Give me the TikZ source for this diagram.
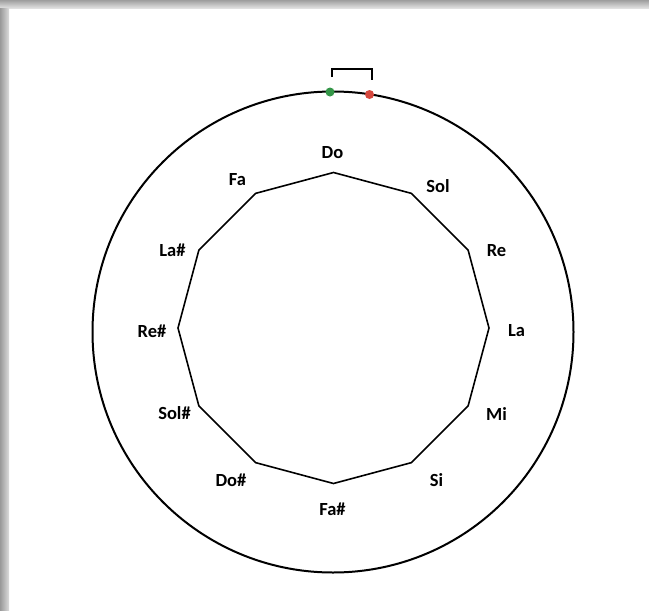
\documentclass[tikz,border=0pt]{standalone}
\usepackage{fontspec}
\setmainfont{Carlito}
\definecolor{dotgreen}{RGB}{52,150,72}
\definecolor{dotred}{RGB}{214,72,62}
\begin{document}
\begin{tikzpicture}[x=1pt,y=-1pt,
  lab/.style={font=\bfseries\fontsize{18.5}{21}\selectfont, inner sep=0pt, anchor=center},
  edge/.style={line width=1.6pt, line join=miter},
  ring/.style={line width=2pt},
  dot/.style={circle, inner sep=0pt, minimum size=9pt}]
\useasboundingbox (0,0) rectangle (649,611);
\fill[white] (0,0) rectangle (649,611);
% frame shadow
\shade[top color=black!38, bottom color=black!12] (0,0) rectangle (649,8);
\shade[left color=black!40, right color=black!14] (0,8) rectangle (9,611);
% outer circle
\coordinate (c) at (333,332);
\draw[ring] (c) circle[radius=240.5];
% dodecagon
\foreach \i in {0,...,11}{
  \coordinate (v\i) at ({333.5+155.5*sin(30*\i)},{328-155.5*cos(30*\i)});
}
\draw[edge] (v0) -- (v1) -- (v2) -- (v3) -- (v4) -- (v5) -- (v6) -- (v7) -- (v8) -- (v9) -- (v10) -- (v11) -- cycle;
% labels
\node[lab] (Do)   at (332.5,153) {Do};
\node[lab] (Sol)  at (438,186) {Sol};
\node[lab] (Re)   at (496.5,250.5) {Re};
\node[lab] (La)   at (516.5,331) {La};
\node[lab] (Mi)   at (496.5,414) {Mi};
\node[lab] (Si)   at (436.5,480) {Si};
\node[lab] (Fas)  at (332.5,509) {Fa\#};
\node[lab] (Dos)  at (231,480) {Do\#};
\node[lab] (Sols) at (174.5,413) {Sol\#};
\node[lab] (Res)  at (152,331) {Re\#};
\node[lab] (Las)  at (172.5,250) {La\#};
\node[lab] (Fa)   at (237.5,180) {Fa};
% dots on the circle
\node[dot, fill=dotgreen] (g) at (330,92) {};
\node[dot, fill=dotred] (r) at (369.5,94.5) {};
% bracket
\coordinate (b1) at (331.5,77);
\coordinate (b2) at (331.5,68.5);
\coordinate (b3) at (371.5,68.5);
\coordinate (b4) at (371.5,80);
\draw[line width=2pt] (b1) -- (b2) -- (b3) -- (b4);
\end{tikzpicture}
\end{document}
